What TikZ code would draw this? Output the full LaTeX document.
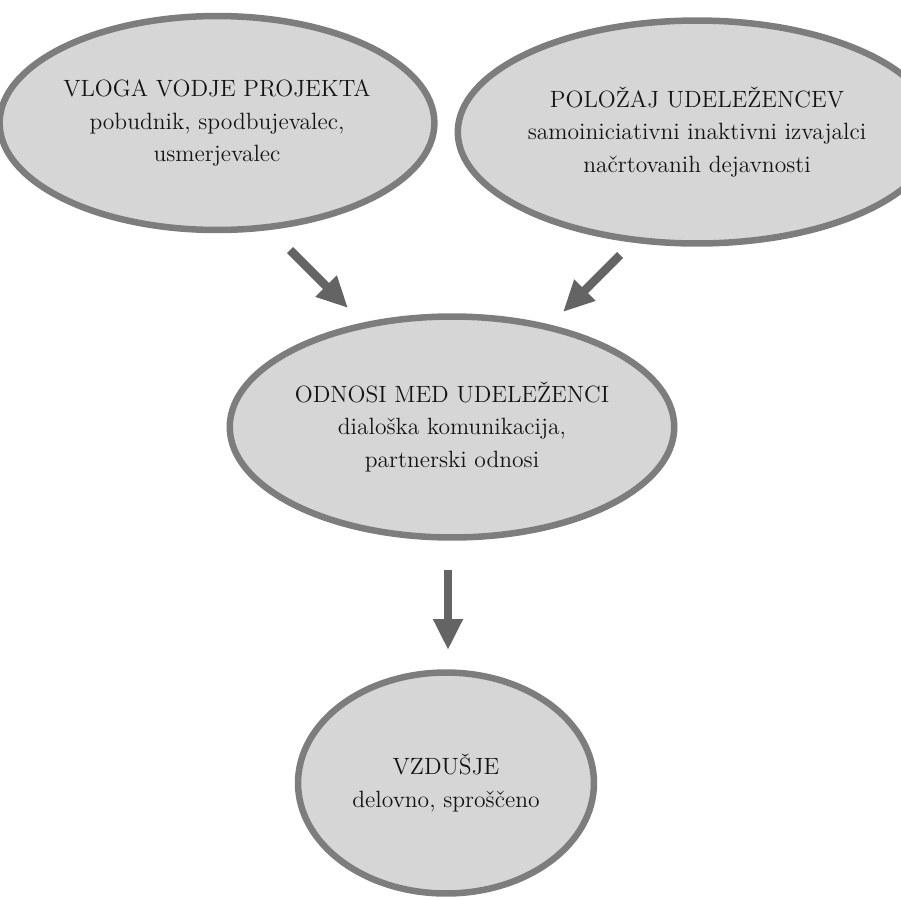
\documentclass[tikz,border=0pt]{standalone}
\usepackage{fontspec}
\usepackage{tikz}
\usetikzlibrary{arrows.meta,positioning,calc,shapes.geometric}
\definecolor{rim}{RGB}{125,125,125}
\definecolor{cloud}{RGB}{214,214,214}
\definecolor{arrowgray}{RGB}{100,100,100}
\definecolor{ink}{RGB}{20,20,20}

\begin{document}
\begin{tikzpicture}[x=0.02cm,y=-0.02cm]
\tikzstyle{E}=[ellipse,draw=rim,fill=cloud,line width=0.13cm,inner sep=0pt,
align=center,text=ink,font=\fontsize{13.4}{18.4}\selectfont]
\tikzstyle{A}=[-{Triangle[length=0.62cm,width=0.56cm]},line width=0.17cm,draw=arrowgray]
\useasboundingbox (0,0) rectangle (901,899);
\node[E,minimum width=8.08cm,minimum height=4.28cm] (vloga) at (217,123)
  {VLOGA VODJE PROJEKTA\\pobudnik, spodbujevalec,\\usmerjevalec};
\node[E,minimum width=7.96cm,minimum height=4.46cm] (polozaj) at (697,132)
  {POLOŽAJ UDELEŽENCEV\\samoiniciativni inaktivni izvajalci\\načrtovanih dejavnosti};
\node[E,minimum width=8.03cm,minimum height=4.42cm] (odnosi) at (452,427)
  {ODNOSI MED UDELEŽENCI\\dialoška komunikacija,\\partnerski odnosi};
\node[E,minimum width=5.92cm,minimum height=4.42cm] (vzdusje) at (446,783)
  {VZDUŠJE\\delovno, sproščeno};
% arrow ends
\coordinate (l1) at (290,250); \coordinate (l2) at (348,308);
\coordinate (r1) at (620,255); \coordinate (r2) at (563,312);
\coordinate (d1) at (448,570); \coordinate (d2) at (448,650);
\draw[A] (l1)--(l2);
\draw[A] (r1)--(r2);
\draw[A] (d1)--(d2);
\end{tikzpicture}
\end{document}
